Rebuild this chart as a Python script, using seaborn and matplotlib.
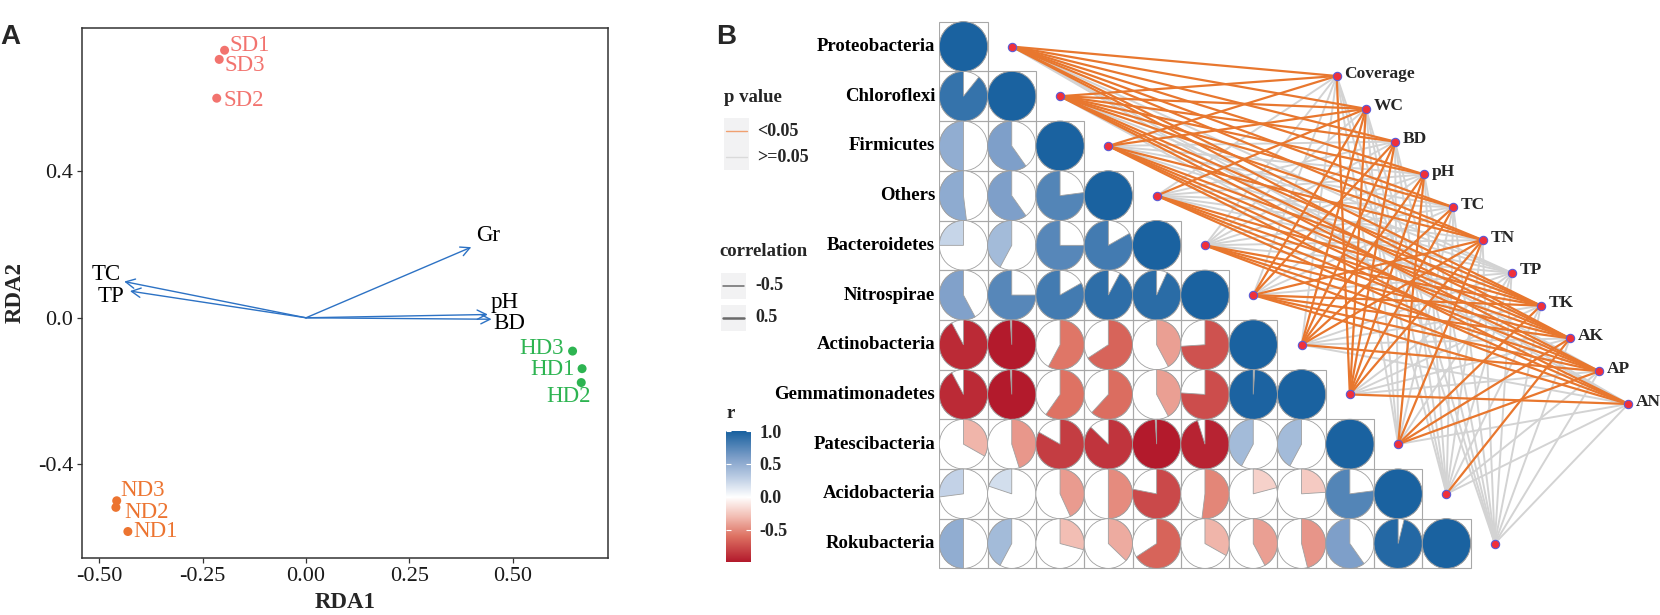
import numpy as np
import pandas as pd
import matplotlib
matplotlib.use("Agg")
import matplotlib.pyplot as plt
import seaborn as sns
from matplotlib.patches import Wedge, Circle, Rectangle
from matplotlib.lines import Line2D
from matplotlib.colors import LinearSegmentedColormap, ListedColormap, Normalize

# ---------------- Panel A: RDA ----------------
samples = ["SD1", "SD2", "SD3", "HD1", "HD2", "HD3", "ND1", "ND2", "ND3"]
groups = ["SD", "SD", "SD", "HD", "HD", "HD", "ND", "ND", "ND"]
rda1 = [-0.197, -0.216, -0.210, 0.668, 0.666, 0.645, -0.431, -0.460, -0.458]
rda2 = [0.731, 0.600, 0.706, -0.139, -0.177, -0.091, -0.584, -0.518, -0.500]

env_vars = ["Gr", "TC", "TP", "pH", "BD"]
env_rda1 = [0.400, -0.440, -0.426, 0.440, 0.449]
env_rda2 = [0.193, 0.099, 0.073, 0.009, -0.004]

# ---------------- Panel B: correlation + mantel ----------------
phyla = ["Proteobacteria", "Chloroflexi", "Firmicutes", "Others", "Bacteroidetes",
         "Nitrospirae", "Actinobacteria", "Gemmatimonadetes", "Patescibacteria",
         "Acidobacteria", "Rokubacteria"]
# lower triangle of the correlation matrix (diagonal = 1 left out)
r_lower = [
    [],
    [0.89],
    [0.50, 0.60],
    [0.52, 0.60, 0.77],
    [0.25, 0.42, 0.75, 0.83],
    [0.58, 0.75, 0.83, 0.92, 0.93],
    [-0.92, -0.99, -0.58, -0.66, -0.42, -0.74],
    [-0.92, -0.99, -0.60, -0.62, -0.42, -0.76, 0.99],
    [-0.33, -0.45, -0.83, -0.87, -0.99, -0.95, 0.42, 0.42],
    [0.27, 0.20, -0.43, -0.50, -0.78, -0.52, -0.21, -0.24, 0.77],
    [0.50, 0.42, -0.29, -0.37, -0.66, -0.33, -0.42, -0.46, 0.60, 0.96],
]
factors = ["Coverage", "WC", "BD", "pH", "TC", "TN", "TP", "TK", "AK", "AP", "AN"]
# mantel test p < 0.05 (1) or not (0), rows = phyla, cols = factors
mantel_sig = [
    [1, 1, 1, 1, 1, 1, 0, 1, 1, 0, 0],
    [1, 1, 1, 1, 1, 1, 0, 1, 1, 1, 0],
    [1, 1, 0, 0, 0, 1, 0, 1, 1, 1, 1],
    [0, 1, 0, 0, 0, 0, 0, 1, 1, 1, 1],
    [0, 0, 0, 0, 0, 0, 0, 1, 1, 1, 1],
    [0, 1, 1, 0, 0, 1, 0, 1, 1, 1, 1],
    [0, 1, 1, 1, 1, 1, 0, 0, 0, 1, 0],
    [1, 1, 1, 1, 1, 1, 0, 0, 0, 0, 1],
    [0, 0, 0, 1, 0, 1, 0, 1, 1, 1, 0],
    [0, 0, 0, 0, 0, 0, 0, 0, 1, 0, 0],
    [0, 0, 0, 0, 0, 0, 0, 0, 0, 0, 0],
]

sns.set_theme(style="white")
plt.rcParams["font.family"] = ["Liberation Serif", "DejaVu Serif"]

W, H = 1660, 615
def fx(px):
    return px / W
def fy(py):
    return 1 - py / H

fig = plt.figure(figsize=(W / 100, H / 100), dpi=100)

# ---- panel A
axa = fig.add_axes([fx(82), fy(557.5), (607.7 - 82) / W, (557.5 - 28.3) / H])
df = pd.DataFrame({"sample": samples, "group": groups, "RDA1": rda1, "RDA2": rda2})
pal = {"SD": "#F2736E", "HD": "#2DB451", "ND": "#EC7430"}
sns.scatterplot(data=df, x="RDA1", y="RDA2", hue="group", palette=pal, s=42,
                edgecolor="none", legend=False, ax=axa, zorder=3)

arrow_col = "#2D72C4"
for x, y in zip(env_rda1, env_rda2):
    axa.annotate("", xy=(x, y), xytext=(0, 0),
                 arrowprops=dict(arrowstyle="->,head_length=0.55,head_width=0.28",
                                 color=arrow_col, lw=1.0, shrinkA=0, shrinkB=0))
env_off = {"Gr": (12, 8.5), "TC": (-13, 5), "TP": (-13.5, -3.6),
           "pH": (12, 8.5), "BD": (12.5, -3.4)}
for name, x, y in zip(env_vars, env_rda1, env_rda2):
    axa.annotate(name, xy=(x, y), xytext=env_off[name], textcoords="offset points",
                 ha="center", va="center", fontsize=16.5, color="black")

lab_off = {"SD1": (3.6, 3.6, "left"), "SD3": (3.6, -4.3, "left"), "SD2": (5, -1.4, "left"),
           "HD3": (-6.5, 2.2, "right"), "HD1": (-5, -0.7, "right"), "HD2": (7.2, -10, "right"),
           "ND3": (2.9, 7.2, "left"), "ND2": (5.8, -3.6, "left"), "ND1": (3.6, 0, "left")}
for s, g, x, y in zip(samples, groups, rda1, rda2):
    dx, dy, ha = lab_off[s]
    axa.annotate(s, xy=(x, y), xytext=(dx, dy), textcoords="offset points",
                 ha=ha, va="center", fontsize=16.5, color=pal[g])

axa.set_xlim(-0.542, 0.730)
axa.set_ylim(-0.655, 0.791)
axa.set_xticks([-0.5, -0.25, 0, 0.25, 0.5])
axa.set_xticklabels(["-0.50", "-0.25", "0.00", "0.25", "0.50"])
axa.set_yticks([-0.4, 0, 0.4])
axa.set_yticklabels(["-0.4", "0.0", "0.4"])
axa.tick_params(direction="out", length=3.5, width=0.9, color="#333333",
                labelsize=16, labelcolor="#1a1a1a", pad=3, bottom=True, left=True)
for sp in axa.spines.values():
    sp.set_color("#333333")
    sp.set_linewidth(1.1)
axa.set_xlabel("RDA1", fontsize=16.5, fontweight="bold", labelpad=5)
axa.set_ylabel("RDA2", fontsize=16.5, fontweight="bold", labelpad=9)

# ---- panel B
n = len(phyla)
cell_w, cell_h = 48.3, 49.7
left_px, top_px = 939.3, 21.7
axb = fig.add_axes([fx(left_px), 0, (W - left_px) / W, 1])
mask = np.triu(np.ones((n, n), dtype=bool), k=1)
sns.heatmap(np.zeros((n, n)), mask=mask, cmap=ListedColormap(["white"]), cbar=False,
            linewidths=0, xticklabels=False, yticklabels=phyla, ax=axb)
axb.set_xlim(0, (W - left_px) / cell_w)
axb.set_ylim((H - top_px) / cell_h, -top_px / cell_h)
axb.tick_params(axis="y", length=0, pad=3)
for t in axb.get_yticklabels():
    t.set_fontsize(13.5)
    t.set_fontweight("bold")
    t.set_rotation(0)
    t.set_color("black")

cmap = LinearSegmentedColormap.from_list(
    "rb", [(0, "#B2182B"), (0.2, "#DE7263"), (0.35, "#F2BDB3"), (0.5, "#FFFFFF"),
           (0.65, "#BCCDE4"), (0.8, "#7E9FC9"), (1.0, "#1A62A0")])
norm = Normalize(-1, 1)

for i in range(n):
    vals = r_lower[i] + [1.0]
    for j, v in enumerate(vals):
        axb.add_patch(Rectangle((j, i), 1, 1, facecolor="none", edgecolor="#A8A8A8",
                                lw=0.8, zorder=1.5))
        c = (j + 0.5, i + 0.5)
        axb.add_patch(Circle(c, 0.5, facecolor="white", edgecolor="#A0A0A0", lw=0.6, zorder=2))
        ext = abs(v) * 360
        if v >= 0:
            t1, t2 = 270 - ext, 270
        else:
            t1, t2 = 270, 270 + ext
        axb.add_patch(Wedge(c, 0.5, t1, t2, facecolor=cmap(norm(v)),
                            edgecolor="#A0A0A0", lw=0.6, zorder=3))

# mantel links
sp_x = np.arange(n) + 1.5
sp_y = np.arange(n) + 0.5
k = np.arange(len(factors))
fac_x = (1336.7 - left_px) / cell_w + k * 29.16 / cell_w
fac_y = (76 - top_px) / cell_h + k * 32.8 / cell_h
orange, grey = "#E8772E", "#D3D3D3"
for sig_level, col, z, lw in [(0, grey, 4, 1.4), (1, orange, 5, 1.6)]:
    for i in range(n):
        for m in range(len(factors)):
            if mantel_sig[i][m] == sig_level:
                axb.plot([sp_x[i], fac_x[m]], [sp_y[i], fac_y[m]], color=col,
                         lw=lw, zorder=z, solid_capstyle="round")
node_kw = dict(s=36, color="#F0303A", edgecolor="#5B5BD6", linewidth=0.8, zorder=7)
axb.scatter(sp_x, sp_y, **node_kw)
axb.scatter(fac_x, fac_y, **node_kw)
for name, x, y in zip(factors, fac_x, fac_y):
    axb.text(x + 0.16, y - 0.05, name, fontsize=12.5, fontweight="bold",
             ha="left", va="center", zorder=8)

# panel tags and legends of panel B
fig.text(fx(0), fy(37), "A", fontsize=20, fontweight="bold", family="Liberation Sans",
         ha="left", va="center")
fig.text(fx(716), fy(37), "B", fontsize=20, fontweight="bold", family="Liberation Sans",
         ha="left", va="center")

fig.text(fx(724), fy(97), "p value", fontsize=13.5, fontweight="bold", va="center")
for (y0, col, lab) in [(118, "#F0A070", "<0.05"), (144, "#DADADA", ">=0.05")]:
    fig.add_artist(Rectangle((fx(724), fy(y0 + 26)), 25 / W, 26 / H, transform=fig.transFigure,
                             facecolor="#F2F2F3", edgecolor="none"))
    fig.add_artist(Line2D([fx(726), fx(747)], [fy(y0 + 13)] * 2, transform=fig.transFigure,
                          color=col, lw=1.0))
    fig.text(fx(757), fy(y0 + 14), lab, fontsize=13, fontweight="bold", va="center")

fig.text(fx(719), fy(252), "correlation", fontsize=13.5, fontweight="bold", va="center")
for (y0, lw, lab) in [(273, 1.1, "-0.5"), (305, 1.8, "0.5")]:
    fig.add_artist(Rectangle((fx(721), fy(y0 + 26)), 25 / W, 26 / H, transform=fig.transFigure,
                             facecolor="#F2F2F3", edgecolor="none"))
    fig.add_artist(Line2D([fx(723), fx(744)], [fy(y0 + 13)] * 2, transform=fig.transFigure,
                          color="#6A6A6A", lw=lw))
    fig.text(fx(755), fy(y0 + 13), lab, fontsize=13, fontweight="bold", va="center")

all_r = [v for row in r_lower for v in row] + [1.0]
vmin, vmax = min(all_r), max(all_r)
fig.text(fx(726), fy(413), "r", fontsize=13.5, fontweight="bold", va="center")
cax = fig.add_axes([fx(726), fy(562), 25 / W, (562 - 431) / H])
grad = np.linspace(vmin, vmax, 256).reshape(-1, 1)
cax.imshow(grad, aspect="auto", cmap=cmap, norm=norm, origin="lower",
           extent=[0, 1, vmin, vmax])
cb_ticks = [-0.5, 0.0, 0.5, 1.0]
cax.hlines(cb_ticks, 0, 0.2, color="white", lw=0.8)
cax.hlines(cb_ticks, 0.8, 1, color="white", lw=0.8)
cax.set_xticks([])
cax.yaxis.tick_right()
cax.set_yticks(cb_ticks)
cax.set_yticklabels(["-0.5", "0.0", "0.5", "1.0"], fontsize=13, fontweight="bold")
cax.tick_params(axis="y", length=0, pad=6)
for sp in cax.spines.values():
    sp.set_visible(False)

fig.savefig("out.png", dpi=100)
